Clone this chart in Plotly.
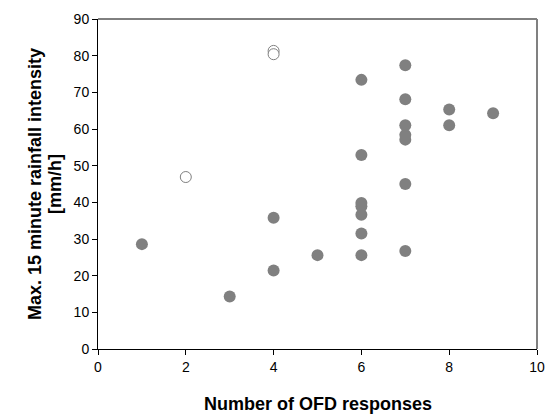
import plotly.graph_objects as go

# Events shown as filled markers
ofd_filled = [1, 3, 4, 4, 5, 6, 6, 6, 6, 6, 6, 6, 7, 7, 7, 7, 7, 7, 7, 8, 8, 9]
rain_filled = [28.6, 14.3, 35.8, 21.4, 25.6, 73.4, 52.9, 39.8, 38.9, 36.6, 31.5, 25.6,
               77.4, 68.1, 61.0, 58.4, 57.1, 45.0, 26.7, 65.3, 61.0, 64.3]

# Events shown as open markers
ofd_open = [2, 4, 4]
rain_open = [46.9, 81.3, 80.4]

x_ticks = [0, 2, 4, 6, 8, 10]
y_ticks = [0, 10, 20, 30, 40, 50, 60, 70, 80, 90]

x_title = "Number of OFD responses"
y_title_lines = ["Max. 15 minute rainfall intensity", "[mm/h]"]

grey = "#808080"
font_family = "Liberation Sans, Arial, sans-serif"
title_font = dict(family=font_family, size=18, color="black")

fig = go.Figure()
fig.add_trace(go.Scatter(
    x=ofd_filled, y=rain_filled, mode="markers",
    marker=dict(size=12, color=grey, line=dict(width=0)),
    showlegend=False, cliponaxis=False,
))
fig.add_trace(go.Scatter(
    x=ofd_open, y=rain_open, mode="markers",
    marker=dict(size=11, color="white", line=dict(width=1, color=grey)),
    showlegend=False, cliponaxis=False,
))

axis_common = dict(
    showgrid=False, zeroline=False, showline=True, linecolor="black", linewidth=1,
    ticks="outside", ticklen=5, tickcolor="black", tickwidth=1,
    tickfont=dict(family=font_family, size=14, color="black"),
)

fig.update_xaxes(range=[0, 10], tickvals=x_ticks, **axis_common)
fig.update_yaxes(range=[0, 90], tickvals=y_ticks, **axis_common)

# Axis titles as annotations so the two y-title lines can sit close together
fig.add_annotation(text=f"<b>{x_title}</b>", xref="paper", yref="paper",
                   x=0.5, y=0, xanchor="center", yanchor="middle", yshift=-55,
                   showarrow=False, font=title_font)
for line, shift in zip(y_title_lines, [-63, -43]):
    fig.add_annotation(text=f"<b>{line}</b>", xref="paper", yref="paper",
                       x=0, y=0.5, xanchor="center", yanchor="middle", xshift=shift,
                       textangle=-90, showarrow=False, font=title_font)

# Frame: black top edge, grey right edge
fig.add_shape(type="line", xref="paper", yref="paper", x0=0, x1=1, y0=1, y1=1,
              line=dict(color="black", width=1))
fig.add_shape(type="line", xref="paper", yref="paper", x0=1, x1=1, y0=0, y1=1,
              line=dict(color=grey, width=2))

fig.update_layout(
    width=556, height=414,
    margin=dict(l=98, r=11, t=18, b=65),
    paper_bgcolor="white", plot_bgcolor="white",
    font=dict(family=font_family, color="black"),
)

fig.write_html("out.html")
